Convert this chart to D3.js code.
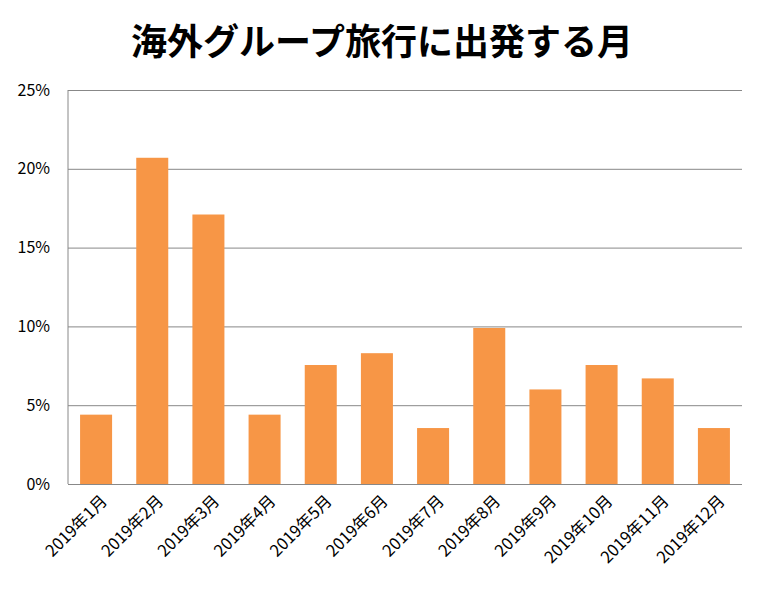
<!DOCTYPE html>
<meta charset="utf-8">
<style>
body { margin: 0; background: #fff; }
text { font-family: "Noto Sans CJK JP", "Noto Sans", sans-serif; }
.grid line { stroke: #888; stroke-width: 1; }
.grid path { display: none; }
</style>
<svg width="764" height="604"></svg>
<script src="https://d3js.org/d3.v7.min.js"></script>
<script>

const months = ["2019年1月", "2019年2月", "2019年3月", "2019年4月", "2019年5月", "2019年6月",
  "2019年7月", "2019年8月", "2019年9月", "2019年10月", "2019年11月", "2019年12月"];
const shares = [4.4, 20.7, 17.1, 4.4, 7.55, 8.3, 3.55, 9.9, 6.0, 7.55, 6.7, 3.55];
const yTicks = [0, 5, 10, 15, 20, 25];

const svg = d3.select("svg"),
    margin = {top: 90, right: 22, bottom: 120, left: 68},
    width = +svg.attr("width") - margin.left - margin.right,
    height = +svg.attr("height") - margin.top - margin.bottom,
    g = svg.append("g").attr("transform", "translate(" + margin.left + "," + margin.top + ")");

svg.append("text")
    .attr("x", 382)
    .attr("y", 55)
    .attr("text-anchor", "middle")
    .style("font-size", "36px")
    .style("font-weight", "bold")
    .text("海外グループ旅行に出発する月");

const xScale = d3.scaleBand().domain(months).range([0, width]).paddingInner(0.43).paddingOuter(0.215);
const yScale = d3.scaleLinear().domain([0, 25]).range([height, 0]);

g.append("g")
    .attr("class", "grid")
    .call(d3.axisLeft(yScale).tickValues(yTicks).tickSize(-width).tickFormat(""));

g.selectAll(".bar")
  .data(shares)
  .enter().append("rect")
    .attr("fill", "#f79646")
    .attr("x", (d, i) => xScale(months[i]))
    .attr("y", d => yScale(d))
    .attr("width", xScale.bandwidth())
    .attr("height", d => height - yScale(d));

g.append("line").attr("x1", 0).attr("x2", 0).attr("y1", 0).attr("y2", height).attr("stroke", "#888");

g.selectAll(".ylab")
  .data(yTicks)
  .enter().append("text")
    .attr("x", -18)
    .attr("y", d => yScale(d))
    .attr("dy", "0.35em")
    .attr("text-anchor", "end")
    .style("font-size", "16px")
    .text(d => d + "%");

g.selectAll(".xlab")
  .data(months)
  .enter().append("text")
    .attr("transform", d => "translate(" + (xScale(d) + xScale.bandwidth() / 2 + 8) + "," + (height + 14) + ") rotate(-45)")
    .attr("text-anchor", "end")
    .attr("dy", "0.35em")
    .style("font-size", "16.5px")
    .text(d => d);

</script>
